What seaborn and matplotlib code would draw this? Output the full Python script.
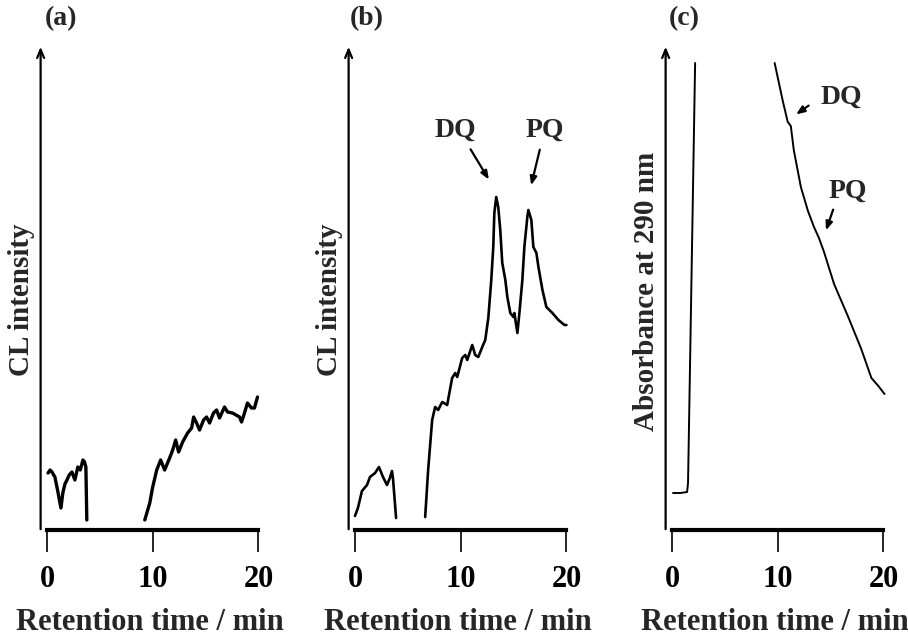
import matplotlib
matplotlib.use("Agg")
import matplotlib.pyplot as plt
import seaborn as sns

# ---- data (time in min, intensity in arbitrary units) ----
# (a) CL, blank
a1_t = [0.1, 0.3, 0.47, 0.75, 1.0, 1.32, 1.5, 1.7, 1.89, 2.1, 2.36, 2.64, 2.92, 3.15, 3.4, 3.55, 3.68, 3.77]
a1_i = [57, 60, 58, 53, 40, 22, 37, 46, 50, 55, 58, 50, 63, 60, 70, 68, 63, 10]
a2_t = [9.25, 9.72, 10.0, 10.38, 10.75, 11.13, 11.6, 11.89, 12.17, 12.45, 12.83, 13.3, 13.68,
        13.87, 14.15, 14.43, 14.81, 15.09, 15.38, 15.75, 16.04, 16.32, 16.79, 17.08, 17.55,
        18.21, 18.4, 18.68, 18.96, 19.34, 19.62, 19.91]
a2_i = [10, 27, 43, 60, 70, 60, 72, 80, 90, 78, 88, 97, 102,
        113, 107, 100, 110, 113, 107, 117, 120, 112, 123, 118, 117,
        113, 108, 117, 127, 122, 122, 133]

# (b) CL, sample
b1_t = [0.0, 0.28, 0.66, 0.9, 1.14, 1.42, 1.9, 2.27, 2.65, 3.03, 3.3, 3.5, 3.6, 3.89]
b1_i = [14, 22, 39, 42, 45, 53, 57, 63, 53, 45, 52, 59, 51, 12]
b2_t = [6.64, 6.92, 7.3, 7.58, 7.87, 8.25, 8.72, 9.19, 9.48, 9.67, 10.14, 10.43, 10.62,
        11.09, 11.37, 11.66, 12.04, 12.32, 12.61, 12.89, 13.08, 13.18, 13.36, 13.55, 13.74,
        13.93, 14.22, 14.41, 14.69, 14.98, 15.07, 15.36, 15.55, 15.83, 16.02, 16.3, 16.4,
        16.68, 16.87, 17.16, 17.35, 17.73, 18.1, 18.67, 19.24, 19.81, 20.0]
b2_i = [13, 60, 110, 123, 120, 128, 125, 152, 157, 153, 172, 175, 170,
        185, 175, 173, 183, 190, 212, 250, 283, 317, 333, 323, 300,
        267, 250, 233, 217, 213, 217, 197, 217, 250, 283, 313, 320,
        310, 283, 277, 263, 240, 223, 217, 210, 205, 205]

# (c) UV absorbance at 290 nm
c1_t = [0.1, 0.8, 1.43, 1.52, 2.19]
c1_i = [37, 37, 38, 47, 467]
c2_t = [9.71, 10.48, 10.95, 11.24, 11.52, 12.19, 12.86, 13.43, 13.9, 14.38, 15.33,
        16.67, 17.9, 18.86, 19.52, 20.1]
c2_i = [467, 429, 408, 404, 380, 343, 319, 303, 292, 278, 246,
        213, 181, 152, 144, 136]

panels = ["(a)", "(b)", "(c)"]
ylabels = ["CL intensity", "CL intensity", "Absorbance at 290 nm"]
xticks = [0, 10, 20]

sns.set_style("white")
plt.rcParams["font.family"] = ["Liberation Serif", "DejaVu Serif"]
plt.rcParams["font.weight"] = "bold"
plt.rcParams["axes.labelweight"] = "bold"

W, H = 908, 637
fig = plt.figure(figsize=(W / 100, H / 100), dpi=100)
lefts = [34.8, 342.8, 659.8]
axes = [fig.add_axes([l / W, 1 - 530 / H, 230 / W, 490 / H]) for l in lefts]

segs = [[(a1_t, a1_i), (a2_t, a2_i)],
        [(b1_t, b1_i), (b2_t, b2_i)],
        [(c1_t, c1_i), (c2_t, c2_i)]]
widths = [2.4, 1.9, 1.4]

for k, ax in enumerate(axes):
    for t, i in segs[k]:
        sns.lineplot(x=t, y=i, ax=ax, color="black", linewidth=widths[k], sort=False)
    ax.set_xlim(-1.15, 20.6)
    ax.set_ylim(0, 490)
    for s in ["top", "right", "left"]:
        ax.spines[s].set_visible(False)
    ax.spines["bottom"].set_bounds(0, 20)
    ax.spines["bottom"].set_linewidth(3)
    ax.spines["bottom"].set_color("black")
    ax.set_xticks(xticks)
    ax.set_yticks([])
    ax.tick_params(axis="x", direction="out", length=16, width=1.2, pad=9,
                   labelsize=22, colors="black", bottom=True)
    ax.set_xlabel("Retention time / min", fontsize=22, labelpad=10)
    # y axis drawn as an arrow
    ax.annotate("", xy=(-0.6, 486), xytext=(-0.6, -2),
                arrowprops=dict(arrowstyle="->,head_length=0.6,head_width=0.25",
                                lw=1.6, color="black"),
                annotation_clip=False)
    ax.text(-0.056, 0.47 if k < 2 else 0.486, ylabels[k], transform=ax.transAxes,
            rotation=90, ha="center", va="center", fontsize=21)

for x, lab in zip([61, 367, 684], panels):
    fig.text(x / W, 1 - 19 / H, lab, ha="center", va="center", fontsize=20)

arrow = dict(arrowstyle="-|>,head_length=0.5,head_width=0.2", lw=1.6, color="black")
ab = axes[1]
ab.text(9.48, 400, "DQ", ha="center", va="center", fontsize=20)
ab.annotate("", xy=(12.8, 348), xytext=(10.8, 383), arrowprops=arrow)
ab.text(18.0, 400, "PQ", ha="center", va="center", fontsize=20)
ab.annotate("", xy=(16.6, 342), xytext=(17.54, 383), arrowprops=arrow)

ac = axes[2]
ac.text(16.0, 433, "DQ", ha="center", va="center", fontsize=20)
ac.annotate("", xy=(11.52, 414), xytext=(13.14, 426), arrowprops=arrow)
ac.text(16.67, 339, "PQ", ha="center", va="center", fontsize=20)
ac.annotate("", xy=(14.48, 297), xytext=(15.33, 323), arrowprops=arrow)

fig.savefig("out.png", dpi=100)
